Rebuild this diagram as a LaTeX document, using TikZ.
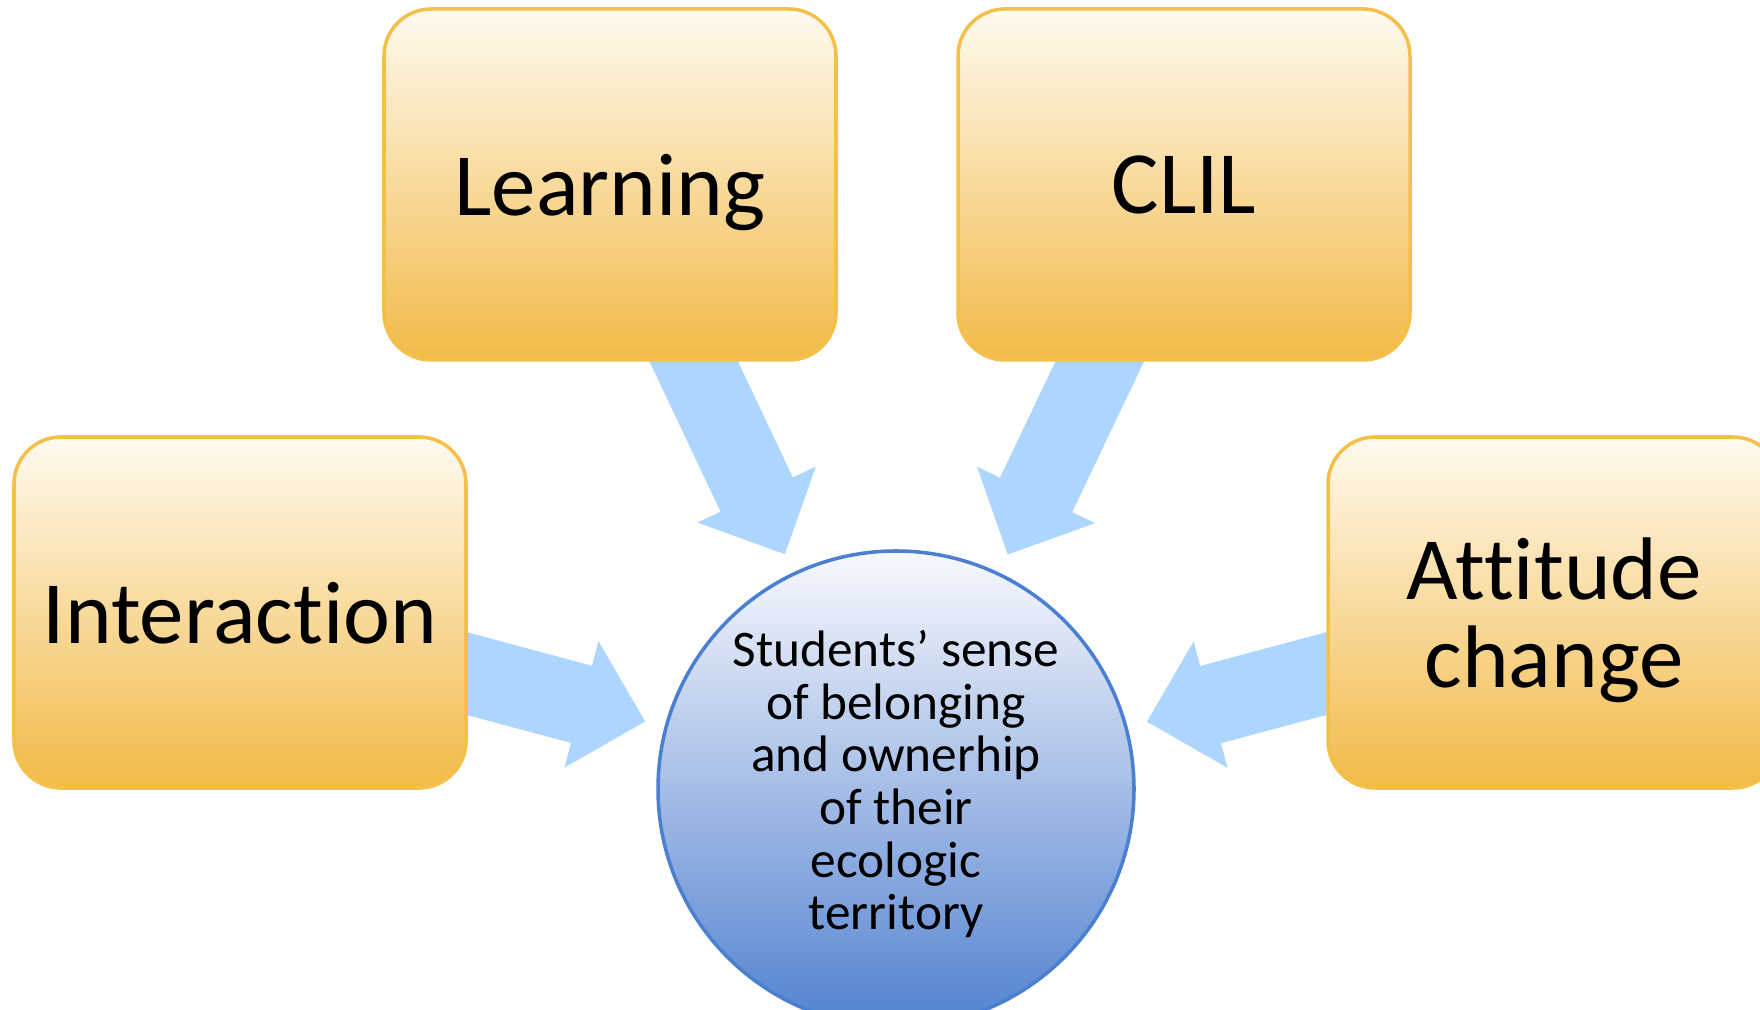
\documentclass[tikz,border=0pt]{standalone}
\usepackage{fontspec}
\setmainfont{Carlito}[Ligatures=NoCommon]
\usepackage{xcolor}
\usetikzlibrary{positioning, arrows.meta, backgrounds}

\definecolor{boxtop}{HTML}{FFFAF0}
\definecolor{boxbot}{HTML}{F2BA48}
\definecolor{boxline}{HTML}{F4C04A}
\definecolor{circtop}{HTML}{F8F9FD}
\definecolor{circbot}{HTML}{5282D0}
\definecolor{circline}{HTML}{4A7FD2}
\definecolor{flowblue}{HTML}{ADD6FE}

\begin{document}
\begin{tikzpicture} [node distance = 2cm, on grid,
        topic/.style = {rectangle, rounded corners = 0.47cm, draw = boxline,
            line width = 1pt, top color = boxtop, bottom color = boxbot,
            minimum width = 4.52cm, minimum height = 3.51cm, align = center,
            text depth = 0pt, font = \fontsize{25.3}{25}\selectfont},
        goal/.style = {circle, draw = circline, line width = 1pt,
            top color = circtop, bottom color = circbot, minimum size = 4.76cm,
            inner sep = 0pt, align = center, text depth = 0.18cm,
            font = \fontsize{14.6}{15}\selectfont},
        flow/.style = {draw = flowblue, line width = 0.8cm, shorten > = 0.2cm,
            -{Triangle[length = 0.66cm, width = 1.3cm, line width = 1.5pt, fill = flowblue]}}]

        \useasboundingbox (0,0) rectangle (17.6,10.1);

        \node (learn) [topic] at (6.10,8.255) {Learning}; \node (clil) [topic,
        right = 5.74 of learn] {CLIL}; \node (inter) [topic, below left = 4.28
        and 3.70 of learn] {Interaction}; \node (att) [topic, right = 13.14 of
        inter] {Attitude\\change};

        \node (sense) [goal, below right = 6.045 and 2.86 of learn]
            {Students’ sense\\of belonging\\and ownerhip\\of their\\ecologic\\territory};

        \begin{scope}[on background layer]
            \draw [flow] (learn.center) -- (sense);
            \draw [flow] (clil.center) -- (sense);
            \draw [flow] (inter.center) -- (sense);
            \draw [flow] (att.center) -- (sense);
        \end{scope}

    \end{tikzpicture}
\end{document}
